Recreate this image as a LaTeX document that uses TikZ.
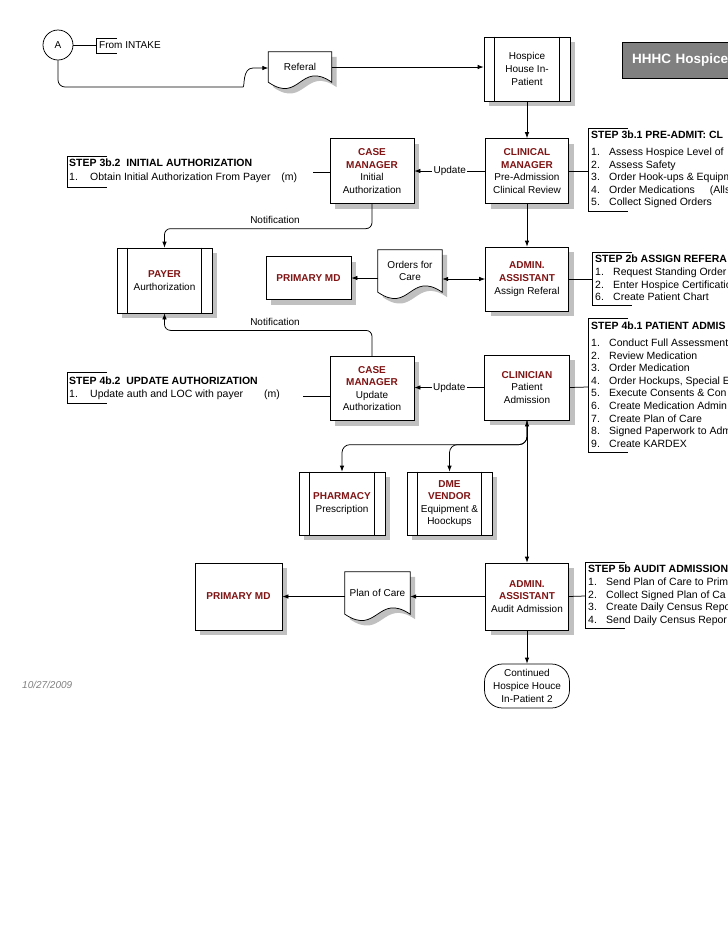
\documentclass[tikz,border=0pt]{standalone}
\usepackage{fontspec}
\setmainfont{Liberation Sans}
\usetikzlibrary{arrows.meta,calc,shadows,backgrounds}
\definecolor{dred}{RGB}{128,20,20}
\definecolor{shgray}{RGB}{192,192,192}
\definecolor{titlegray}{RGB}{128,128,128}
\newcommand\rt[1]{{\bfseries\color{dred}#1}}
\newcommand\itm[2]{\makebox[18pt][l]{#1}#2}
\newcommand\itmw[2]{\makebox[21pt][l]{#1}#2}
\newcommand\docshape[1]{%
 \begin{scope}[on background layer]
  \fill[shgray] ([xshift=5pt,yshift=-5pt]#1.north west) -- ([xshift=5pt,yshift=-5pt]#1.north east) -- ([xshift=5pt,yshift=-5pt]#1.south east) .. controls ([xshift=5pt,yshift=17pt]#1.south) and ([xshift=5pt,yshift=-27pt]#1.south) .. ([xshift=5pt,yshift=-5pt]#1.south west) -- cycle;
  \draw[line, fill=white] (#1.north west) -- (#1.north east) -- (#1.south east) .. controls ([yshift=22pt]#1.south) and ([yshift=-22pt]#1.south) .. (#1.south west) -- cycle;
 \end{scope}}
\newcommand\pproc[1]{%
 \draw[line] ([xshift=11pt]#1.north west) -- ([xshift=11pt]#1.south west);
 \draw[line] ([xshift=-11pt]#1.north east) -- ([xshift=-11pt]#1.south east);}
\newcommand\stepbr[3]{\draw[line] ({#1+40},#2) -- (#1,#2) -- (#1,#3) -- ({#1+40},#3);}
\begin{document}
\begin{tikzpicture}[x=1pt,y=-1pt,
  every node/.style={font=\fontsize{10}{12.6}\selectfont, inner sep=0pt},
  line/.style={draw=black, line width=0.75pt},
  arr/.style={line, -{Latex[length=6pt,width=4.5pt]}},
  darr/.style={line, {Latex[length=6pt,width=4.5pt]}-{Latex[length=6pt,width=4.5pt]}},
  boxshadow/.style={general shadow={fill=shgray, shadow xshift=5pt, shadow yshift=-5pt}},
  box/.style={draw, fill=white, line width=0.75pt, align=center, boxshadow},
  docnode/.style={align=center},
  steptext/.style={anchor=north west, align=left, font=\fontsize{10.5}{12.6}\selectfont},
  lbl/.style={fill=white, inner xsep=1.5pt, inner ysep=1pt}
]
\useasboundingbox (0,0) rectangle (728,943);
\clip (0,0) rectangle (728,943);
\begin{scope}[on background layer]
\fill[white] (0,0) rectangle (728,943);
\end{scope}

% top row
\node[circle, draw, line width=0.75pt, minimum size=30pt] (A) at (58,45) {A};
\node[anchor=west] (intake) at (99,45) {From INTAKE};
\draw[line] (117,38) -- (96,38) -- (96,53) -- (117,53);
\coordinate (intakeb) at (96,45);
\draw[line] (A.east) -- (intakeb);

\node[docnode, minimum width=63pt, minimum height=30pt] (ref) at (300,67) {Referal};
\docshape{ref}
\draw[arr] (A.south) [rounded corners=7pt] -- (58,87) -- (236,87) [sharp corners] .. controls (245,87) and (242,68) .. (253,68) -- (ref.west |- 0,68);

\node[box, minimum width=86pt, minimum height=64pt] (hh) at (527,69) {Hospice\\House In-\\Patient};
\pproc{hh}
\draw[arr] (ref.east) -- (ref.east -| hh.west);

\node[draw, fill=titlegray, anchor=north west, minimum height=36pt, text width=140pt, inner xsep=10pt, align=left, text=white, font=\bfseries\fontsize{13.5}{16}\selectfont] (title) at (622,42) {HHHC Hospice};

% row 2
\node[box, minimum width=83pt, minimum height=65pt] (cm1) at (527,171) {\rt{CLINICAL}\\\rt{MANAGER}\\Pre-Admission\\Clinical Review};
\draw[arr] (hh.south) -- (cm1.north);
\node[box, minimum width=84pt, minimum height=65pt] (case1) at (372,171) {\rt{CASE}\\\rt{MANAGER}\\Initial\\Authorization};
\draw[arr] (cm1.west) -- (case1.east) node[midway, lbl] {Update};

\stepbr{588}{128}{211}
\coordinate (b31) at (588,171);
\draw[line] (cm1.east) -- (b31);
\node[steptext] (t31) at (591,131) {\textbf{STEP 3b.1 PRE-ADMIT: CL}\\[4pt]
\itm{1.}{Assess Hospice Level of}\\
\itm{2.}{Assess Safety}\\
\itm{3.}{Order Hook-ups \& Equipm}\\
\itm{4.}{Order Medications\hspace{12pt} (Alls}\\
\itm{5.}{Collect Signed Orders}};

\stepbr{67}{156}{187}
\node[steptext] (t32) at (69,159) {\textbf{STEP 3b.2 \ INITIAL AUTHORIZATION}\\[1.5pt]
\itmw{1.}{Obtain Initial Authorization From Payer\hspace{8pt} (m)}};
\coordinate (s32) at (313,172);
\draw[line] (s32) -- (s32 -| case1.west);

% row 3
\node[box, minimum width=95pt, minimum height=65pt] (payer) at (164.5,280.5) {\rt{PAYER}\\Aurthorization};
\pproc{payer}
\draw[arr, rounded corners=6pt] (case1.south) |- ($(payer.north)+(0,-19)$) -- (payer.north);
\node (n1) at (275,220) {Notification};

\node[box, minimum width=85pt, minimum height=43pt] (pmd1) at (308.5,278) {\rt{PRIMARY MD}};
\node[docnode, minimum width=64pt, minimum height=42pt] (ofc) at (410,271) {Orders for\\Care};
\docshape{ofc}
\node[box, minimum width=83pt, minimum height=64pt] (aa1) at (527,279) {\rt{ADMIN.}\\\rt{ASSISTANT}\\Assign Referal};
\draw[arr] (cm1.south) -- (aa1.north);
\draw[darr] (aa1.west) -- (aa1.west -| ofc.east);
\draw[arr] (ofc.west |- pmd1.east) -- (pmd1.east);

\stepbr{592}{252}{305}
\coordinate (b2b) at (592,279);
\draw[line] (aa1.east) -- (b2b);
\node[steptext] (t2b) at (595,255) {\textbf{STEP 2b ASSIGN REFERA}\\
\itm{1.}{Request Standing Order}\\
\itm{2.}{Enter Hospice Certificatio}\\
\itm{6.}{Create Patient Chart}};

% row 4
\node[box, minimum width=84pt, minimum height=64pt] (case2) at (372,388.5) {\rt{CASE}\\\rt{MANAGER}\\Update\\Authorization};
\draw[arr, rounded corners=6pt] (case2.north) |- ($(payer.south)+(0,17)$) -- (payer.south);
\node (n2) at (275,322) {Notification};

\node[box, minimum width=85pt, minimum height=65pt] (clin) at (527,387.5) {\rt{CLINICIAN}\\Patient\\Admission};
\draw[arr] (clin.west) -- (clin.west -| case2.east) node[midway, lbl] {Update};

\stepbr{588}{318}{452}
\coordinate (b41) at (588,387);
\draw[line] (clin.east) -- (b41);
\node[steptext] (t41) at (591,322) {\textbf{STEP 4b.1 PATIENT ADMIS}\\[4pt]
\itm{1.}{Conduct Full Assessment}\\
\itm{2.}{Review Medication}\\
\itm{3.}{Order Medication}\\
\itm{4.}{Order Hockups, Special E}\\
\itm{5.}{Execute Consents \& Con}\\
\itm{6.}{Create Medication Admin}\\
\itm{7.}{Create Plan of Care}\\
\itm{8.}{Signed Paperwork to Adm}\\
\itm{9.}{Create KARDEX}};

\stepbr{67}{372}{403}
\node[steptext] (t42) at (69,377) {\textbf{STEP 4b.2 \ UPDATE AUTHORIZATION}\\
\itmw{1.}{Update auth and LOC with payer\hspace{18pt} (m)}};
\coordinate (s42) at (303,396);
\draw[line] (s42) -- (s42 -| case2.west);

% row 5
\node[box, minimum width=86pt, minimum height=63pt] (pharm) at (342,503.5) {\rt{PHARMACY}\\Prescription};
\pproc{pharm}
\node[box, minimum width=85pt, minimum height=63pt] (dme) at (449.5,503.5) {\rt{DME}\\\rt{VENDOR}\\Equipment \&\\Hoockups};
\pproc{dme}
\draw[arr, rounded corners=8pt] (clin.south) |- ($(pharm.north)+(0,-27)$) -- (pharm.north);
\draw[arr, rounded corners=8pt] (clin.south) |- ($(dme.north)+(0,-27)$) -- (dme.north);

% row 6
\node[box, minimum width=87pt, minimum height=67pt] (pmd2) at (238.5,596.5) {\rt{PRIMARY MD}};
\node[docnode, minimum width=65pt, minimum height=42pt] (poc) at (377.5,593) {Plan of Care};
\docshape{poc}
\node[box, minimum width=83pt, minimum height=67pt] (aa2) at (527,596.5) {\rt{ADMIN.}\\\rt{ASSISTANT}\\Audit Admission};
\draw[darr] (clin.south) -- (aa2.north);
\draw[arr] (aa2.west) -- (aa2.west -| poc.east);
\draw[arr] (poc.west |- pmd2.east) -- (pmd2.east);

\stepbr{585}{562}{628}
\coordinate (b5b) at (585,596);
\draw[line] (aa2.east) -- (b5b);
\node[steptext] (t5b) at (588,565) {\textbf{STEP 5b AUDIT ADMISSION}\\
\itm{1.}{Send Plan of Care to Prim}\\
\itm{2.}{Collect Signed Plan of Ca}\\
\itm{3.}{Create Daily Census Repo}\\
\itm{4.}{Send Daily Census Repor}};

% bottom
\node[draw, line width=0.75pt, rounded corners=18pt, minimum width=85pt, minimum height=44pt, align=center] (cont) at (527,686) {Continued\\Hospice Houce\\In-Patient 2};
\draw[arr] (aa2.south) -- (cont.north);
\node[anchor=west, text=gray, font=\itshape\fontsize{10}{12}\selectfont] (date) at (22,685) {10/27/2009};
\end{tikzpicture}
\end{document}
